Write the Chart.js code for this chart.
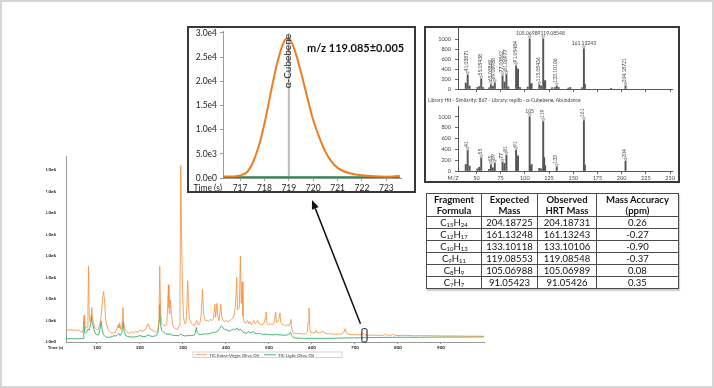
<!DOCTYPE html>
<html>
<head>
<meta charset="utf-8">
<script src="https://cdn.jsdelivr.net/npm/chart.js@4.4.1/dist/chart.umd.min.js"></script>
<style>
html,body{margin:0;padding:0;background:#fff;}
#page{position:relative;width:714px;height:388px;overflow:hidden;background:#fff;font-family:Lato,"DejaVu Sans",sans-serif;}
#frame{position:absolute;left:0;top:0;width:714px;height:388px;box-sizing:border-box;border:2px solid #d6d6d6;}
.full{position:absolute;left:0;top:0;}
.box{position:absolute;box-sizing:border-box;border:2px solid #383838;background:#fff;}
#insetBox{left:187px;top:26px;width:229px;height:167px;}
#specBox{left:424px;top:26px;width:256px;height:157px;}
#mz{position:absolute;left:307px;top:41px;font-weight:bold;font-size:11px;color:#111;white-space:nowrap;}
#tbl{position:absolute;left:426px;top:193px;border-collapse:collapse;font-size:9.5px;color:#111;box-shadow:1px 2px 1px rgba(0,0,0,0.18);table-layout:fixed;}
#tbl th,#tbl td{border:1.6px solid #4a4a4a;padding:0;text-align:center;white-space:nowrap;}
#tbl th{height:22px;line-height:11px;font-weight:bold;}
#tbl td{height:11px;line-height:11px;}
#tbl sub{font-size:6px;vertical-align:-1px;line-height:0;}
</style>
</head>
<body>
<div id="page">
  <div id="frame"></div>
  <canvas id="cMain" class="full" width="714" height="388"></canvas>
  <div id="insetBox" class="box"></div>
  <canvas id="cInset" class="full" width="714" height="388"></canvas>
  <div id="mz">m/z 119.085±0.005</div>
  <div id="specBox" class="box"></div>
  <canvas id="cSpecTop" class="full" width="714" height="388"></canvas>
  <canvas id="cSpecBot" class="full" width="714" height="388"></canvas>
  <table id="tbl"></table>
</div>
<script>
// ---------------- DATA ----------------
const seriesNames = ['TIC Extra-Virgin Olive Oil', 'TIC Light Olive Oil'];

// Main TIC traces (time in s, intensity in units of 1e6)
const evooTime = [28,35,42,50,58,63,66,68,70,71.5,74,77,79,80.5,82,84,86,88,89.5,92,95,98,102,106,110,113,115.5,118,120,123,127,131,135,139,142,146,149,151,153,155,158,160.5,162,165,170,175,180,185,190,195,200,205,210,214,218,220,223,228,233,237,241,244,246,248,250,254,258,262,264,266,267.5,269,271,273,276,280,284,288,291,293,295,297,299,301,304,307,309,311,313,315,319,323,327,330,332,335,339,342,345.5,348,352,356,360,364,368,371,374,376,379,381,384,388,390,393,397,401,405,409,413,416,420,423,425,427,431,433.5,435.5,437.5,439.5,443,447,450,453,456,459,462,465,468,471,474,477,481,485,489,491,493,495,499,503,507,511,513,515.5,517.5,520,523,525.5,527.5,531,535,539,543,547,549,551,553,556,560,565,570,575,580,585,589,591,593,595,598,603,608,610,612,617,622,625,628,635,642,650,658,665,670,674,677,680,685,692,700,708,715,719,723,730,740,750,760,768,771,774,780,787,790,793,800,810,820,830,840,850,860,870,880,890,900,920,940,960,980,1000];
const evooTIC = [0.57,0.55,0.57,0.54,0.55,0.47,0.45,0.55,1.24,0.8,0.62,0.7,1.6,3.52,1.3,0.9,1.1,1.6,1.15,0.9,0.65,0.6,0.55,0.75,1.2,2.0,2.35,1.8,1.1,0.75,0.55,0.45,0.4,0.45,0.42,0.6,0.8,0.65,0.9,0.6,0.65,1.6,0.9,0.6,0.45,0.4,0.48,0.42,0.5,0.45,0.55,0.5,0.55,0.6,0.85,0.82,0.6,0.55,0.5,0.45,0.5,0.9,3.52,1.4,0.9,0.8,0.75,0.8,1.5,2.66,1.6,1.3,1.95,1.3,0.8,0.65,0.6,0.6,0.75,1.8,8.2,4.5,2.4,1.2,0.85,0.9,1.6,2.85,1.8,1.1,0.9,0.8,0.75,0.9,1.0,0.8,0.85,1.2,2.45,1.3,1.0,1.0,0.95,1.05,1.0,1.1,1.75,1.15,1.8,1.2,1.0,1.75,1.2,1.0,0.95,1.0,0.95,1.0,1.05,1.1,1.3,2.0,3.0,1.5,1.6,4.0,1.8,2.8,1.2,0.9,0.9,1.0,0.85,0.95,0.8,0.9,1.0,0.85,0.9,1.0,0.85,0.8,0.8,0.9,1.1,1.4,0.9,0.8,0.85,0.8,0.85,1.0,1.4,0.9,0.95,1.05,1.35,0.9,0.8,0.8,0.75,0.8,0.75,0.9,1.05,0.6,0.42,0.4,0.38,0.4,0.38,0.37,0.38,0.45,0.9,1.58,0.6,0.42,0.42,0.45,0.55,0.45,0.42,0.45,0.52,0.42,0.4,0.38,0.37,0.36,0.37,0.38,0.45,0.62,0.42,0.36,0.34,0.34,0.33,0.34,0.4,0.34,0.32,0.32,0.31,0.31,0.32,0.37,0.32,0.31,0.33,0.36,0.31,0.3,0.3,0.31,0.3,0.29,0.3,0.29,0.3,0.29,0.29,0.28,0.28,0.28,0.27,0.27,0.27];

const lightTime = [28,40,50,60,68,69.5,71,73,76,79,82,85,87.5,89,91,94,97,100,104,107,109.5,112,115,119,124,130,135,140,144,148,151,154,158,161,163,167,172,180,190,200,205,212,220,225,232,238,242,244.5,246,247.5,250,255,260,265,270,275,282,290,295,298,305,312,320,326,329,331,333,337,343,350,357,364,370,376,381,385,389,392,395,399,403,408,413,418,422,426,430,434,438,443,448,452,455,460,464,467,472,478,485,492,498,505,512,518,525,532,540,546,550,553,557,565,580,600,620,640,660,680,700,720,750,800,850,900,950,1000];
const lightTIC = [0.15,0.15,0.15,0.15,0.16,0.95,0.5,0.42,0.45,0.6,0.55,0.8,1.24,0.9,0.75,0.5,0.38,0.32,0.35,0.6,0.97,0.6,0.35,0.25,0.22,0.22,0.25,0.3,0.27,0.35,0.4,0.3,0.45,0.97,0.5,0.3,0.25,0.23,0.24,0.3,0.26,0.25,0.33,0.27,0.26,0.3,0.45,1.0,1.73,0.9,0.55,0.45,0.38,0.36,0.38,0.32,0.3,0.3,0.38,0.32,0.28,0.3,0.3,0.32,0.45,0.68,0.45,0.35,0.35,0.38,0.37,0.4,0.45,0.45,0.5,0.62,0.75,0.7,0.6,0.58,0.55,0.5,0.55,0.6,0.58,0.65,0.55,0.6,0.48,0.42,0.4,0.5,0.42,0.45,0.5,0.4,0.38,0.4,0.35,0.37,0.35,0.34,0.33,0.35,0.33,0.32,0.32,0.35,0.45,0.3,0.2,0.18,0.17,0.17,0.17,0.17,0.18,0.19,0.19,0.2,0.21,0.22,0.22,0.23,0.23,0.24];

const mainXTicks = [100,200,300,400,500,600,700,800,900];
const mainYTicks = [0,1,2,3,4,5,6,7,8];
const zoomWindow = [716, 728];      // s, highlighted region
const zoomWindowTop = 0.62;         // 1e6

// Inset: extracted ion chromatogram m/z 119.085
const insetTime  = [716.3,716.6,716.9,717.1,717.3,717.5,717.75,718.0,718.25,718.5,718.75,718.9,719.05,719.25,719.5,719.75,720.0,720.25,720.5,720.75,721.0,721.25,721.5,722.0,722.5,723.0,723.3,723.55];
const insetEvoo  = [300,300,420,700,1300,2900,6300,11200,17400,23300,27600,28800,28600,26300,21800,16800,12000,8400,5400,3400,2100,1400,1000,550,350,280,300,450];
const insetLight = [150,140,150,140,150,150,140,150,160,150,150,160,150,150,140,150,150,140,150,150,140,150,150,140,150,150,140,150];
const insetXTicks = [717,718,719,720,721,722,723];
const insetYTicks = [0,5000,10000,15000,20000,25000,30000];
const markerTime = 719;
const markerName = 'α-Cubebene';

// Observed HRT spectrum
const specMz  = [39,41,43,51,53,55,57,63,65,67,69,77,79,81,83,91,92,93,95,103,105,106,107,115,117,119,120,121,128,131,133,135,145,147,159,161,162,189,204];
const specObs = [120,280,60,30,50,200,30,25,85,55,120,260,140,290,40,460,130,400,30,40,1000,90,110,80,60,1000,130,170,25,30,55,30,20,30,25,800,100,15,60];
const specLabelMz   = [41,55,65,69,77,81,91,105,115,119,133,161,204];
const specLabelText = ['41.03871','55.05438','65.03869','69.06988','77.03862','81.06977','91.05484','105.06989','115.05436','119.08548','133.10106','161.13243','204.18721'];
const specLabelFlat = [0,0,0,0,0,0,0,1,0,1,0,1,0];

// Library spectrum
const libMz = [39,41,43,51,53,55,63,65,67,69,77,79,81,91,92,93,105,106,107,115,117,119,120,121,133,161,162,204];
const libAb = [120,380,90,40,70,240,30,110,60,140,160,140,290,380,150,280,1000,90,120,50,40,910,250,100,70,930,110,180];
const libLabelMz   = [41,55,65,69,77,81,91,105,119,133,161,204];
const libLabelText = ['41','55','65','69','77','81','91','105','119','133','161','204'];
const libLabelFlat = [0,0,0,0,0,0,0,1,0,0,0,0];
const libTitle = 'Library Hit - Similarity: 867 - Library: replib - α-Cubebene, Abundance';

const specXTicks = [50,75,100,125,150,175,200,225,250];
const specYTicks = [0,200,400,600,800,1000];

// Fragment table
const tableHead = [['Fragment','Formula'],['Expected','Mass'],['Observed','HRT Mass'],['Mass Accuracy','(ppm)']];
const formulaC = [15,12,10,9,8,7];
const formulaH = [24,17,13,11,9,7];
const expectedMass = ['204.18725','161.13248','133.10118','119.08553','105.06988','91.05423'];
const observedMass = ['204.18731','161.13243','133.10106','119.08548','105.06989','91.05426'];
const massAccuracy = ['0.26','-0.27','-0.90','-0.37','0.08','0.35'];

// ---------------- LAYOUT ----------------
const W = 714, H = 388;
const MAIN_AREA  = {l:66, t:156, r:484, b:342};
const INSET_AREA = {l:223, t:31, r:401, b:178};
const SPT_AREA   = {l:458, t:28, r:672, b:89};
const SPB_AREA   = {l:458, t:106, r:672, b:171};
const INSET_BOX  = {l:187, t:26, r:416, b:193};
const SPEC_BOX   = {l:424, t:26, r:680, b:183};
const FONT = 'Lato';
const pad = (a, yW, xH) => ({left: a.l - yW, top: a.t, right: W - a.r, bottom: H - a.b - xH});
const fmtE = v => v.toExponential(1).replace('+', '');
const pts = (xs, ys) => xs.map((x, i) => ({x, y: ys[i]}));
const setTicks = arr => s => { s.ticks = arr.map(v => ({value: v})); };
const base = {animation:false, responsive:false, devicePixelRatio:1, events:[],
  plugins:{legend:{display:false}, tooltip:{enabled:false}}};

const colEvoo = 'rgba(243,140,52,0.78)';
const colLight = 'rgba(40,170,95,0.85)';

// ---------------- MAIN CHART ----------------
const mainDeco = {
  id:'mainDeco',
  afterDraw(chart){
    const {ctx, chartArea:a, scales:{x, y}} = chart;
    ctx.save();
    ctx.fillStyle = '#222'; ctx.font = 'bold 4.5px ' + FONT;
    ctx.textAlign = 'right'; ctx.textBaseline = 'middle';
    ctx.fillText('Time (s)', a.left - 3, a.bottom + 2 + 1.3 + 2.7);
    // highlighted window
    const bx0 = x.getPixelForValue(zoomWindow[0]), bx1 = x.getPixelForValue(zoomWindow[1]);
    const by0 = y.getPixelForValue(zoomWindowTop), by1 = y.getPixelForValue(0);
    ctx.strokeStyle = '#111'; ctx.lineWidth = 1;
    ctx.beginPath(); ctx.roundRect(bx0, by0, bx1 - bx0, by1 - by0, 1.5); ctx.stroke();
    // arrow to inset
    const sx = (bx0 + bx1) / 2 - 4, sy = by0 - 5;
    const tx = INSET_BOX.l + 125, ty = INSET_BOX.b + 7;
    const ang = Math.atan2(ty - sy, tx - sx), hl = 9, hw = 3.6;
    const hx = tx - hl * Math.cos(ang), hy = ty - hl * Math.sin(ang);
    ctx.lineWidth = 1.5;
    ctx.beginPath(); ctx.moveTo(sx, sy); ctx.lineTo(hx, hy); ctx.stroke();
    ctx.fillStyle = '#111';
    ctx.beginPath(); ctx.moveTo(tx, ty);
    ctx.lineTo(hx + hw * Math.sin(ang), hy - hw * Math.cos(ang));
    ctx.lineTo(hx - hw * Math.sin(ang), hy + hw * Math.cos(ang));
    ctx.closePath(); ctx.fill();
    // legend
    const lx = a.left + 127, ly = 352, lh = 5.5;
    ctx.strokeStyle = '#c8c8c8'; ctx.lineWidth = 0.8; ctx.strokeRect(lx, ly, 149, lh);
    ctx.font = '4.5px ' + FONT; ctx.textAlign = 'left'; ctx.textBaseline = 'middle';
    let cx = lx + 2;
    seriesNames.forEach((n, i) => {
      ctx.strokeStyle = [colEvoo, colLight][i]; ctx.lineWidth = 1;
      ctx.beginPath(); ctx.moveTo(cx, ly + lh / 2); ctx.lineTo(cx + 12, ly + lh / 2); ctx.stroke();
      cx += 14; ctx.fillStyle = '#333'; ctx.fillText(n, cx, ly + lh / 2 + 0.3);
      cx += ctx.measureText(n).width + 5;
    });
    ctx.restore();
  }
};

new Chart(document.getElementById('cMain'), {
  type:'line',
  data:{datasets:[
    {label:seriesNames[0], data:pts(evooTime, evooTIC), borderColor:colEvoo, borderWidth:1, pointRadius:0, tension:0},
    {label:seriesNames[1], data:pts(lightTime, lightTIC), borderColor:colLight, borderWidth:1, pointRadius:0, tension:0}
  ]},
  options:{...base,
    layout:{padding:pad(MAIN_AREA, 20, 12)},
    scales:{
      x:{type:'linear', min:28, max:1000, afterBuildTicks:setTicks(mainXTicks), afterFit:s=>{s.height=12;},
        grid:{drawOnChartArea:false, drawTicks:true, tickLength:2, color:'#999'}, border:{color:'#9a9a9a'},
        ticks:{padding:1.3, autoSkip:false, maxRotation:0, color:'#222', font:{family:FONT, size:4.5, weight:'bold'}, callback:v=>String(v)}},
      y:{type:'linear', min:0, max:8.65, afterBuildTicks:setTicks(mainYTicks), afterFit:s=>{s.width=20;},
        grid:{drawOnChartArea:false, drawTicks:true, tickLength:2, color:'rgba(0,0,0,0)'}, border:{color:'#9a9a9a'},
        ticks:{padding:8, autoSkip:false, color:'#222', font:{family:FONT, size:4.5, weight:'bold'}, callback:v=>fmtE(v*1e6)}}
    }
  },
  plugins:[mainDeco]
});

// ---------------- INSET ----------------
const insetDeco = {
  id:'insetDeco',
  beforeDatasetsDraw(chart){
    const {ctx, chartArea:a, scales:{x, y}} = chart;
    const px = x.getPixelForValue(markerTime);
    ctx.save(); ctx.strokeStyle = '#bdbdbd'; ctx.lineWidth = 2;
    ctx.beginPath(); ctx.moveTo(px, y.getPixelForValue(insetYTicks[insetYTicks.length-1])); ctx.lineTo(px, a.bottom); ctx.stroke();
    ctx.restore();
  },
  afterDraw(chart){
    const {ctx, chartArea:a, scales:{x}} = chart;
    const px = x.getPixelForValue(markerTime);
    ctx.save();
    ctx.fillStyle = '#222'; ctx.font = '10px ' + FONT;
    ctx.translate(px - 1, a.top + 3); ctx.rotate(-Math.PI / 2);
    ctx.textAlign = 'right'; ctx.textBaseline = 'middle';
    ctx.fillText(markerName, 0, 0);
    ctx.restore();
    ctx.save();
    ctx.fillStyle = '#222'; ctx.font = '8.5px ' + FONT; ctx.textAlign = 'right'; ctx.textBaseline = 'middle';
    ctx.fillText('Time (s)', a.left - 1, a.bottom + 3 + 2 + 5.1);
    ctx.restore();
  }
};

new Chart(document.getElementById('cInset'), {
  type:'line',
  data:{datasets:[
    {data:pts(insetTime, insetEvoo), borderColor:'#f07c1e', borderWidth:2, pointRadius:0, cubicInterpolationMode:'monotone'},
    {data:pts(insetTime, insetLight), borderColor:'#1f8a4c', borderWidth:2, pointRadius:0, cubicInterpolationMode:'monotone'}
  ]},
  options:{...base,
    layout:{padding:pad(INSET_AREA, 36, 16)},
    scales:{
      x:{type:'linear', min:716.3, max:723.6, afterBuildTicks:setTicks(insetXTicks), afterFit:s=>{s.height=16;},
        grid:{drawOnChartArea:false, drawTicks:true, tickLength:3, color:'#999'}, border:{color:'#999'},
        ticks:{padding:2, autoSkip:false, maxRotation:0, color:'#222', font:{family:FONT, size:8.5}, callback:v=>String(v)}},
      y:{type:'linear', min:0, max:30400, afterBuildTicks:setTicks(insetYTicks), afterFit:s=>{s.width=36;},
        grid:{drawOnChartArea:false, drawTicks:true, tickLength:3, color:'#999'}, border:{color:'#999'},
        ticks:{padding:3, autoSkip:false, color:'#222', font:{family:FONT, size:8.5}, callback:v=>fmtE(v)}}
    }
  },
  plugins:[insetDeco]
});

// ---------------- SPECTRA ----------------
function specPlugin(mzArr, intArr, labMz, labText, labFlat, extra){
  return {id:'specLab', afterDraw(chart){
    const {ctx, scales:{x, y}} = chart;
    ctx.save();
    ctx.font = '5px ' + FONT; ctx.fillStyle = '#444'; ctx.strokeStyle = '#777'; ctx.lineWidth = 0.6;
    const P = labMz.map((m, i) => ({px:x.getPixelForValue(m), py:y.getPixelForValue(intArr[mzArr.indexOf(m)]), t:labText[i], flat:labFlat[i]}));
    P.forEach(p => {
      ctx.beginPath(); ctx.moveTo(p.px - 1.5, p.py - 3); ctx.lineTo(p.px + 1.5, p.py - 3); ctx.lineTo(p.px, p.py); ctx.closePath(); ctx.stroke();
    });
    const flats = P.filter(p => p.flat);
    P.forEach(p => {
      if (p.flat) {
        let align = 'center', tx = p.px;
        const nb = flats.find(q => q !== p && Math.abs(q.px - p.px) < 25);
        if (nb) { tx = (p.px + nb.px) / 2 + 4; align = p.px < nb.px ? 'right' : 'left'; }
        ctx.textAlign = align; ctx.textBaseline = 'bottom'; ctx.fillText(p.t, tx, p.py - 3.3);
      } else {
        ctx.save(); ctx.translate(p.px - 1, p.py - 3.5); ctx.rotate(-Math.PI / 2);
        ctx.textAlign = 'left'; ctx.textBaseline = 'middle'; ctx.fillText(p.t, 0, 0); ctx.restore();
      }
    });
    if (extra) extra(chart);
    ctx.restore();
  }};
}
function specOptions(area, xH, yMax, showX){
  return {...base,
    layout:{padding:pad(area, 22, xH)},
    scales:{
      x:{type:'linear', min:31, max:252, offset:false, afterBuildTicks:setTicks(specXTicks), afterFit:s=>{s.height=xH;},
        grid:{offset:false, drawOnChartArea:false, drawTicks:true, tickLength:3, color:'#666'}, border:{color:'#555'},
        ticks:{display:showX, padding:0.7, autoSkip:false, maxRotation:0, color:'#444', font:{family:FONT, size:5.5}, callback:v=>String(v)}},
      y:{type:'linear', min:0, max:yMax, afterBuildTicks:setTicks(specYTicks), afterFit:s=>{s.width=22;},
        grid:{drawOnChartArea:false, drawTicks:true, tickLength:3, color:'#666'}, border:{color:'#555'},
        ticks:{padding:4, autoSkip:false, color:'#444', font:{family:FONT, size:5.5}, callback:v=>String(v)}}
    }
  };
}
new Chart(document.getElementById('cSpecTop'), {
  type:'bar',
  data:{datasets:[{data:pts(specMz, specObs), backgroundColor:'#555', barThickness:1.3, borderWidth:0}]},
  options:specOptions(SPT_AREA, 6, 1220, false),
  plugins:[specPlugin(specMz, specObs, specLabelMz, specLabelText, specLabelFlat)]
});
new Chart(document.getElementById('cSpecBot'), {
  type:'bar',
  data:{datasets:[{data:pts(libMz, libAb), backgroundColor:'#555', barThickness:1.3, borderWidth:0}]},
  options:specOptions(SPB_AREA, 12, 1200, true),
  plugins:[specPlugin(libMz, libAb, libLabelMz, libLabelText, libLabelFlat, chart => {
    const {ctx, chartArea:a} = chart;
    ctx.fillStyle = '#444'; ctx.font = '5.5px ' + FONT; ctx.textAlign = 'center'; ctx.textBaseline = 'middle';
    ctx.fillText('M/Z', a.left - 5, a.bottom + 3 + 0.7 + 3.3);
    ctx.font = '5px ' + FONT; ctx.textAlign = 'left';
    ctx.fillText(libTitle, SPEC_BOX.l + 4, a.top - 6);
  })]
});

// ---------------- TABLE ----------------
const colW = [55, 56, 59, 82];
let html = '<colgroup>' + colW.map(w => `<col style="width:${w}px">`).join('') + '</colgroup>';
html += '<tr>' + tableHead.map(h => `<th>${h[0]}<br>${h[1]}</th>`).join('') + '</tr>';
formulaC.forEach((c, i) => {
  html += `<tr><td>C<sub>${c}</sub>H<sub>${formulaH[i]}</sub></td><td>${expectedMass[i]}</td><td>${observedMass[i]}</td><td>${massAccuracy[i]}</td></tr>`;
});
document.getElementById('tbl').innerHTML = html;
</script>
</body>
</html>
